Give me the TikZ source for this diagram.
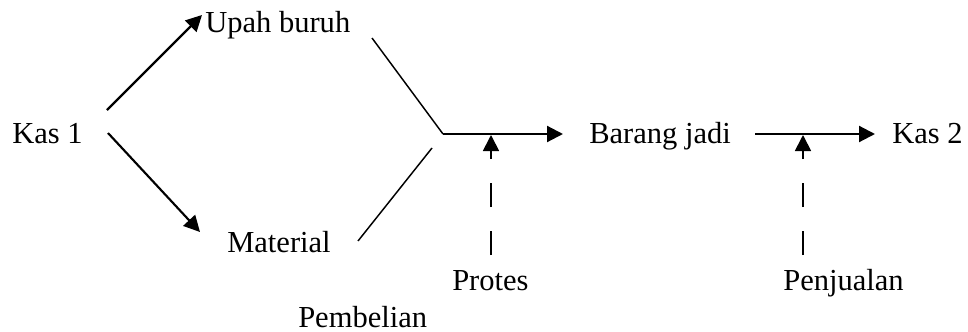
\documentclass[tikz,border=0pt]{standalone}
\usepackage{fontspec}
\setmainfont{Liberation Serif}
\usetikzlibrary{arrows.meta}
\begin{document}
\begin{tikzpicture}[x=0.75pt,y=-0.75pt,
  lbl/.style={inner sep=0pt,anchor=base west,font=\fontsize{22.9}{27}\selectfont},
  arr/.style={line width=1.6pt,-{Triangle[length=12pt,width=12pt]}},
  plain/.style={line width=1.1pt},
  dasharr/.style={line width=1.3pt,dash pattern=on 18pt off 18pt,-{Triangle[length=12pt,width=12pt]}}]
\useasboundingbox (0,0) rectangle (968,332);
% labels
\node[lbl] (kas1) at (12,143) {Kas 1};
\node[lbl] (upah) at (205,32) {Upah buruh};
\node[lbl] (mat) at (227,252) {Material};
\node[lbl] (barang) at (589,143) {Barang jadi};
\node[lbl] (kas2) at (892,143) {Kas 2};
\node[lbl] (protes) at (452,290) {Protes};
\node[lbl] (pemb) at (298,327) {Pembelian};
\node[lbl] (penj) at (783,290) {Penjualan};
% connector ends
\coordinate (k1u) at (107,110);
\coordinate (upin) at (202,15);
\coordinate (k1m) at (108,133);
\coordinate (matin) at (200,232);
\coordinate (upout) at (372,38);
\coordinate (join) at (443,134);
\coordinate (matout) at (358,241);
\coordinate (matend) at (432,148);
\coordinate (bjin) at (563,134);
\coordinate (bjout) at (755,134);
\coordinate (k2in) at (875,134);
\coordinate (prbot) at (491,255);
\coordinate (prtop) at (491,135);
\coordinate (pjbot) at (803,255);
\coordinate (pjtop) at (803,135);
% connectors
\draw[arr] (k1u) -- (upin);
\draw[arr] (k1m) -- (matin);
\draw[plain] (upout) -- (join);
\draw[plain] (matout) -- (matend);
\draw[arr] (join) -- (bjin);
\draw[arr] (bjout) -- (k2in);
\draw[dasharr] (prbot) -- (prtop);
\draw[dasharr] (pjbot) -- (pjtop);
\end{tikzpicture}
\end{document}
